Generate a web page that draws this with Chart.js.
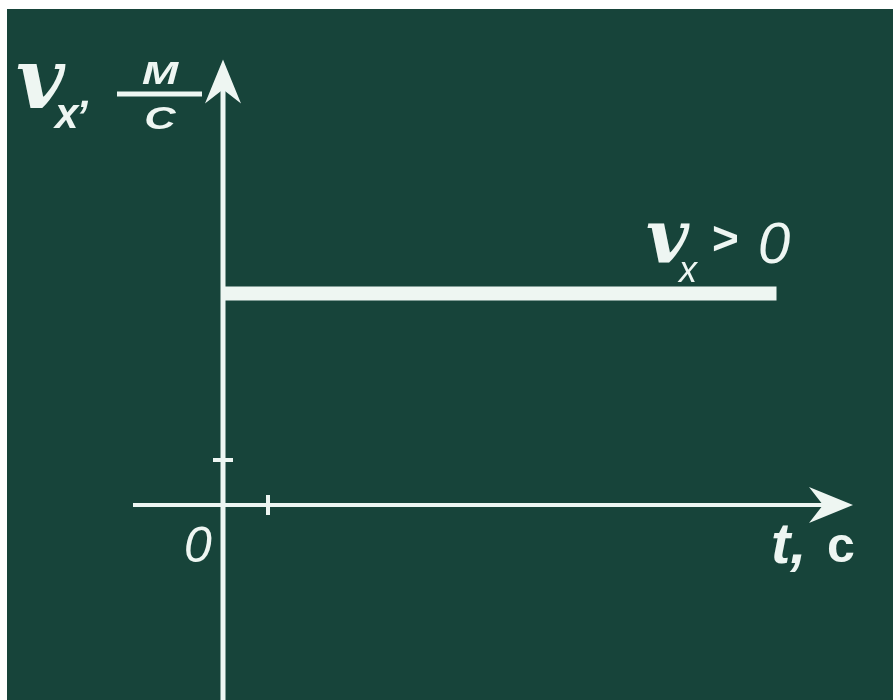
<!DOCTYPE html>
<html>
<head>
<meta charset="utf-8">
<script src="https://cdn.jsdelivr.net/npm/chart.js@4/dist/chart.umd.min.js"></script>
<style>
    html, body { margin: 0; padding: 0; background: #ffffff; overflow: hidden; }
    #board { display: block; }
</style>
</head>
<body>
<canvas id="board" width="893" height="700"></canvas>
<script>
// Data: v_x = const > 0
var times = [0, 12.3];
var velocity = [4.7, 4.7];

// Axis geometry (data units)
var tAxisRange = [-2.0, 14.0];
var vAxisRange = [-4.6, 9.9];
var tTicks = [1];
var vTicks = [1];

var CHALK = '#eef6f2';
var BOARD = '#17443a';

function drawArrow(ctx, tipX, tipY, dirX, dirY) {
    // concave chalk arrow head
    var len = 44, half = 18, notch = 30;
    var px = -dirY, py = dirX;
    ctx.beginPath();
    ctx.moveTo(tipX, tipY);
    ctx.lineTo(tipX - dirX * len + px * half, tipY - dirY * len + py * half);
    ctx.lineTo(tipX - dirX * notch, tipY - dirY * notch);
    ctx.lineTo(tipX - dirX * len - px * half, tipY - dirY * len - py * half);
    ctx.closePath();
    ctx.fill();
}

// wide chalk letters for the unit fraction
function wideText(ctx, text, cx, baseline, sx) {
    ctx.save();
    ctx.translate(cx, baseline);
    ctx.scale(sx, 1);
    ctx.fillText(text, 0, 0);
    ctx.restore();
}

var boardPlugin = {
    id: 'board',
    beforeDraw: function(chart) {
        var ctx = chart.ctx;
        ctx.save();
        ctx.fillStyle = '#ffffff';
        ctx.fillRect(0, 0, chart.width, chart.height);
        ctx.fillStyle = BOARD;
        ctx.fillRect(7, 9, chart.width - 7, chart.height - 9);

        var xs = chart.scales.x, ys = chart.scales.y;
        var x0 = xs.getPixelForValue(0), y0 = ys.getPixelForValue(0);
        ctx.strokeStyle = CHALK;
        ctx.fillStyle = CHALK;
        ctx.lineCap = 'butt';

        // t axis
        var tL = xs.getPixelForValue(tAxisRange[0]);
        var tR = xs.getPixelForValue(tAxisRange[1]);
        ctx.lineWidth = 4;
        ctx.beginPath();
        ctx.moveTo(tL, y0);
        ctx.lineTo(tR - 25, y0);
        ctx.stroke();
        drawArrow(ctx, tR, y0, 1, 0);

        // v axis
        var vB = ys.getPixelForValue(vAxisRange[0]);
        var vT = ys.getPixelForValue(vAxisRange[1]);
        ctx.lineWidth = 5;
        ctx.beginPath();
        ctx.moveTo(x0, vB);
        ctx.lineTo(x0, vT + 25);
        ctx.stroke();
        drawArrow(ctx, x0, vT, 0, -1);

        // ticks
        ctx.lineWidth = 4;
        tTicks.forEach(function(t) {
            var px = xs.getPixelForValue(t);
            ctx.beginPath();
            ctx.moveTo(px, y0 - 10);
            ctx.lineTo(px, y0 + 10);
            ctx.stroke();
        });
        vTicks.forEach(function(v) {
            var py = ys.getPixelForValue(v);
            ctx.beginPath();
            ctx.moveTo(x0 - 10, py);
            ctx.lineTo(x0 + 10, py);
            ctx.stroke();
        });
        ctx.restore();
    },
    afterDraw: function(chart) {
        var ctx = chart.ctx;
        var xs = chart.scales.x, ys = chart.scales.y;
        var x0 = xs.getPixelForValue(0), y0 = ys.getPixelForValue(0);
        ctx.save();
        ctx.fillStyle = CHALK;
        ctx.strokeStyle = CHALK;
        ctx.textBaseline = 'alphabetic';

        // origin
        ctx.textAlign = 'center';
        ctx.font = 'italic 50px "Liberation Sans", Arial, sans-serif';
        ctx.fillText('0', x0 - 25, y0 + 57);

        // t, c
        ctx.textAlign = 'left';
        ctx.font = 'bold italic 58px "Liberation Sans", Arial, sans-serif';
        ctx.fillText('t,', x0 + 548, y0 + 58);
        ctx.font = 'bold 50px "Liberation Sans", Arial, sans-serif';
        ctx.fillText('с', x0 + 604, y0 + 57);

        // v_x, м/с
        ctx.font = 'bold italic 84px "DejaVu Serif", serif';
        ctx.fillText('v', 16, 108);
        ctx.font = 'bold italic 42px "Liberation Sans", Arial, sans-serif';
        ctx.fillText('x', 55, 128);
        ctx.fillText(',', 80, 107);
        ctx.textAlign = 'center';
        ctx.font = 'bold italic 31px "Liberation Sans", Arial, sans-serif';
        wideText(ctx, 'М', 160, 84, 1.4);
        wideText(ctx, 'С', 160, 129, 1.4);
        ctx.lineWidth = 5;
        ctx.beginPath();
        ctx.moveTo(117, 94);
        ctx.lineTo(202, 94);
        ctx.stroke();

        // v_x > 0
        var lineY = ys.getPixelForValue(velocity[velocity.length - 1]);
        ctx.textAlign = 'left';
        ctx.font = 'bold italic 74px "DejaVu Serif", serif';
        ctx.fillText('v', 646, lineY - 31);
        ctx.font = 'italic 36px "Liberation Sans", Arial, sans-serif';
        ctx.fillText('x', 679, lineY - 12);
        ctx.font = 'bold 46px "Liberation Sans", Arial, sans-serif';
        ctx.fillText('>', 712, lineY - 40);
        ctx.font = 'italic 58px "Liberation Sans", Arial, sans-serif';
        ctx.fillText('0', 758, lineY - 31);
        ctx.restore();
    }
};

var points = times.map(function(t, i) { return { x: t, y: velocity[i] }; });

new Chart(document.getElementById('board'), {
    type: 'line',
    data: {
        datasets: [{
            data: points,
            borderColor: CHALK,
            borderWidth: 14,
            borderCapStyle: 'butt',
            pointRadius: 0,
            fill: false,
            tension: 0
        }]
    },
    options: {
        responsive: false,
        animation: false,
        layout: { padding: 0 },
        scales: {
            x: { type: 'linear', min: -223 / 45, max: 670 / 45, display: false },
            y: { type: 'linear', min: -195 / 45, max: 505 / 45, display: false }
        },
        plugins: {
            legend: { display: false },
            tooltip: { enabled: false }
        }
    },
    plugins: [boardPlugin]
});
</script>
</body>
</html>
